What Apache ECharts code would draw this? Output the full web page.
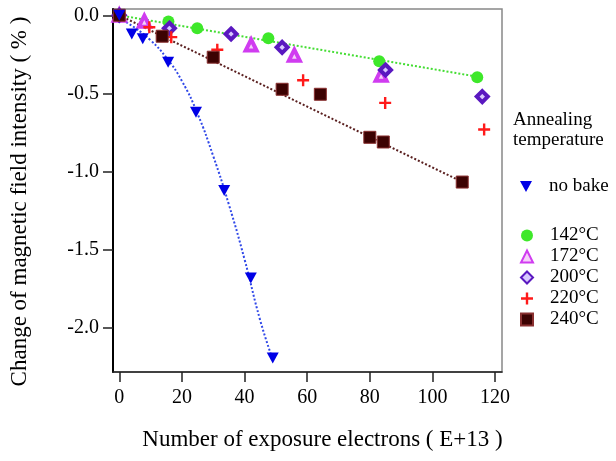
<!DOCTYPE html>
<html>
<head>
<meta charset="utf-8">
<script src="https://cdn.jsdelivr.net/npm/echarts@6/dist/echarts.min.js"></script>
<style>
  html, body { margin: 0; padding: 0; background: #fff; }
  #main { width: 616px; height: 461px; }
</style>
</head>
<body>
<div id="main"></div>
<script>
// 数据
var xTicks = [0, 20, 40, 60, 80, 100, 120];
var yTicks = [0, -0.5, -1.0, -1.5, -2.0];

var noBakeX = [0, 4, 7.5, 15.6, 24.5, 33.5, 42, 49];
var noBakeY = [0, -0.12, -0.15, -0.30, -0.62, -1.12, -1.68, -2.19];

var t142X = [0, 15.7, 24.9, 47.6, 83, 114.3];
var t142Y = [0, -0.04, -0.083, -0.147, -0.294, -0.396];

var t172X = [0, 8, 42.1, 55.9, 83.6];
var t172Y = [0, -0.038, -0.19, -0.255, -0.383];

var t200X = [0, 16, 35.7, 52, 85, 115.9];
var t200Y = [0, -0.083, -0.12, -0.205, -0.35, -0.52];

var t220X = [0, 9.6, 16.6, 31.3, 58.7, 84.9, 116.5];
var t220Y = [0, -0.077, -0.14, -0.22, -0.415, -0.56, -0.73];

var t240X = [0, 13.7, 30, 52, 64.2, 80, 84.3, 109.5];
var t240Y = [0, -0.134, -0.268, -0.473, -0.505, -0.78, -0.81, -1.066];

// 拟合线
var fitBlueX = [0, 5, 10, 15, 20, 25, 30, 35, 40, 45, 49];
var fitBlueY = [-0.02, -0.08, -0.16, -0.27, -0.42, -0.63, -0.90, -1.21, -1.56, -1.95, -2.2];
var fitGreenX = [0, 115];
var fitGreenY = [0, -0.395];
var fitBrownX = [0, 110];
var fitBrownY = [0, -1.07];

function pairs(xs, ys) {
  return xs.map(function (x, i) { return [x, ys[i]]; });
}

var font = 'Liberation Serif';
var chartDom = document.getElementById('main');
var myChart = echarts.init(chartDom);

var option = {
  animation: false,
  textStyle: { fontFamily: font },
  title: {
    text: 'Annealing\ntemperature',
    left: 508,
    top: 105,
    textStyle: { fontFamily: font, fontSize: 19, fontWeight: 'normal', color: '#000', lineHeight: 20 }
  },
  legend: [
    {
      data: ['no bake'],
      orient: 'vertical',
      left: 515,
      top: 172,
      itemWidth: 12,
      itemHeight: 12,
      textStyle: { fontFamily: font, fontSize: 19, color: '#000', padding: [0, 0, 0, 12] }
    },
    {
      data: ['142°C', '172°C', '200°C', '220°C', '240°C'],
      orient: 'vertical',
      left: 515,
      top: 221,
      itemGap: 2,
      itemWidth: 12,
      itemHeight: 12,
      textStyle: { fontFamily: font, fontSize: 19, color: '#000', padding: [0, 0, 0, 12] }
    }
  ],
  grid: {
    left: 113, right: 114, top: 9, bottom: 89,
    show: true, borderColor: '#888', borderWidth: 1.5
  },
  xAxis: {
    type: 'value',
    min: -2,
    max: 122.2,
    name: 'Number of exposure electrons ( E+13 )',
    nameLocation: 'middle',
    nameGap: 56,
    nameTextStyle: { fontFamily: font, fontSize: 23, color: '#000', padding: [0, 0, 0, 30] },
    splitLine: { show: false },
    axisLine: { onZero: false, lineStyle: { color: '#222', width: 1.5 } },
    axisTick: { customValues: xTicks, length: 10, lineStyle: { color: '#222', width: 1.5 } },
    axisLabel: { customValues: xTicks, fontFamily: font, fontSize: 20, color: '#000', margin: 16 }
  },
  yAxis: {
    type: 'value',
    min: -2.28,
    max: 0.04,
    name: 'Change of magnetic field intensity ( % )',
    nameLocation: 'middle',
    nameGap: 82,
    nameRotate: 90,
    nameTextStyle: { fontFamily: font, fontSize: 23, color: '#000', padding: [0, 22, 0, 0] },
    splitLine: { show: false },
    axisLine: { onZero: false, lineStyle: { color: '#000', width: 2 } },
    axisTick: { customValues: yTicks, length: 10, lineStyle: { color: '#222', width: 1.5 } },
    axisLabel: {
      customValues: yTicks, fontFamily: font, fontSize: 20, color: '#000', margin: 14,
      formatter: function (v) { return v.toFixed(1); }
    }
  },
  series: [
    {
      name: 'fitBlue', type: 'line', smooth: true, showSymbol: false, symbol: 'none',
      data: pairs(fitBlueX, fitBlueY), z: 1,
      lineStyle: { color: '#3048e8', width: 2, type: 'dotted' }
    },
    {
      name: 'fitGreen', type: 'line', showSymbol: false, symbol: 'none',
      data: pairs(fitGreenX, fitGreenY), z: 1,
      lineStyle: { color: '#44dd33', width: 2, type: 'dotted' }
    },
    {
      name: 'fitBrown', type: 'line', showSymbol: false, symbol: 'none',
      data: pairs(fitBrownX, fitBrownY), z: 1,
      lineStyle: { color: '#5a2020', width: 2, type: 'dotted' }
    },
    {
      name: 'no bake', type: 'scatter', data: pairs(noBakeX, noBakeY),
      symbol: 'path://M0,0L10,0L5,9Z', symbolSize: [12, 11],
      itemStyle: { color: '#0000e6', opacity: 1 }, z: 5
    },
    {
      name: '142°C', type: 'scatter', data: pairs(t142X, t142Y),
      symbol: 'circle', symbolSize: 12,
      itemStyle: { color: '#3ee82a', opacity: 1 }, z: 3
    },
    {
      name: '172°C', type: 'scatter', data: pairs(t172X, t172Y),
      symbol: 'triangle', symbolSize: 11,
      itemStyle: { color: '#f6d0fa', borderColor: '#d03cf0', borderWidth: 4, opacity: 1 }, z: 4
    },
    {
      name: '200°C', type: 'scatter', data: pairs(t200X, t200Y),
      symbol: 'diamond', symbolSize: 11,
      itemStyle: { color: '#d8c8ff', borderColor: '#5a18c0', borderWidth: 4, opacity: 1 }, z: 4
    },
    {
      name: '220°C', type: 'scatter', data: pairs(t220X, t220Y),
      symbol: 'path://M4,0H6V4H10V6H6V10H4V6H0V4H4Z', symbolSize: 12,
      itemStyle: { color: '#ff1a1a', opacity: 1 }, z: 4
    },
    {
      name: '240°C', type: 'scatter', data: pairs(t240X, t240Y),
      symbol: 'rect', symbolSize: 12,
      itemStyle: { color: '#3c0202', borderColor: '#8a3030', borderWidth: 1, opacity: 1 }, z: 4
    }
  ]
};

option && myChart.setOption(option);
</script>
</body>
</html>
